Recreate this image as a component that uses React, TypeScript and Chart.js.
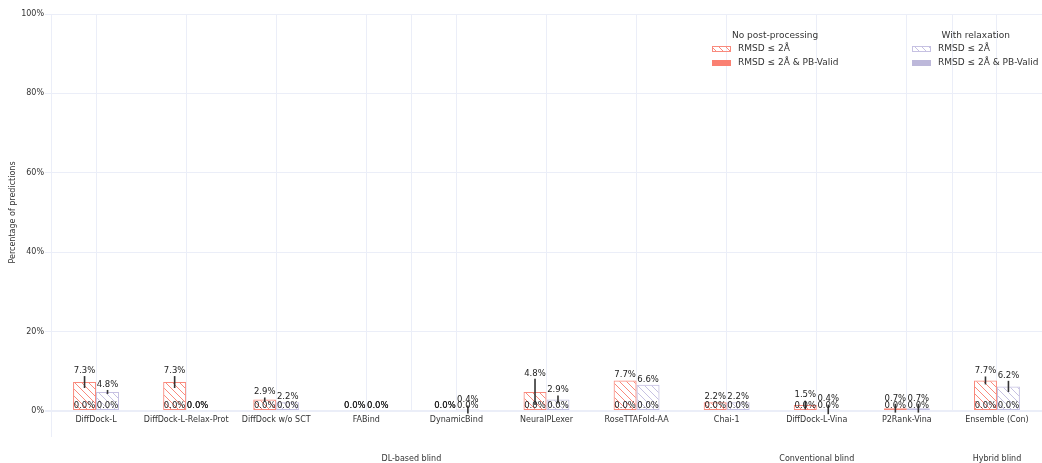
import React, { useEffect, useRef } from 'react';
import { Chart, registerables } from 'chart.js';
Chart.register(...registerables);

const categories = [
  'DiffDock-L', 'DiffDock-L-Relax-Prot', 'DiffDock w/o SCT', 'FABind', 'DynamicBind',
  'NeuralPLexer', 'RoseTTAFold-AA', 'Chai-1', 'DiffDock-L-Vina', 'P2Rank-Vina', 'Ensemble (Con)',
];
const noPostRmsd = [7.3, 7.3, 2.9, 0.0, 0.0, 4.8, 7.7, 2.2, 1.5, 0.7, 7.7];
const noPostRmsdErr = [1.5, 1.5, 0.5, 0.0, 0.0, 3.3, 0.0, 0.0, 1.1, 1.1, 1.0];
const noPostPbValid = [0.0, 0.0, 0.0, 0.0, 0.0, 0.0, 0.0, 0.0, 0.0, 0.0, 0.0];
const relaxRmsd = [4.8, 0.0, 2.2, 0.0, 0.4, 2.9, 6.6, 2.2, 0.4, 0.7, 6.2];
const relaxRmsdErr = [0.5, 0.0, 0.0, 0.0, 1.0, 1.0, 0.0, 0.0, 1.2, 1.1, 1.4];
const relaxPbValid = [0.0, 0.0, 0.0, 0.0, 0.0, 0.0, 0.0, 0.0, 0.0, 0.0, 0.0];
const yTickValues = [0, 20, 40, 60, 80, 100];
const groupLabels = ['DL-based blind', 'Conventional blind', 'Hybrid blind'];
const groupCenters = [3.5, 8, 10];
const dividerPositions = [3.5, 9.5];

const RED = '#FA8072';
const RED_HATCH = '#F98A7D';
const PURPLE = '#BDB8DA';
const PURPLE_HATCH = '#C6C1E2';
const GRID = '#EBEEF8';
const FONT = '"DejaVu Sans", sans-serif';

function makeHatch(color: string): CanvasPattern | string {
  const c = document.createElement('canvas');
  const s = 7;
  c.width = s;
  c.height = s;
  const g = c.getContext('2d');
  if (!g) return color;
  g.strokeStyle = color;
  g.lineWidth = 1;
  g.beginPath();
  g.moveTo(-1, -1);
  g.lineTo(s + 1, s + 1);
  g.moveTo(s - 1, -1);
  g.lineTo(s + 1, 1);
  g.moveTo(-1, s - 1);
  g.lineTo(1, s + 1);
  g.stroke();
  const p = g.createPattern(c, 'repeat');
  return p || color;
}

export default function App() {
  const ref = useRef<HTMLCanvasElement | null>(null);

  useEffect(() => {
    document.body.style.margin = '0';
    const canvas = ref.current;
    if (!canvas) return;
    const redHatch = makeHatch(RED_HATCH);
    const purpleHatch = makeHatch(PURPLE_HATCH);

    const errors: Record<number, number[]> = { 0: noPostRmsdErr, 2: relaxRmsdErr };

    const overlayPlugin = {
      id: 'overlay',
      beforeDatasetsDraw(chart: any) {
        const { ctx, chartArea, scales } = chart;
        const x = scales.x;
        ctx.save();
        ctx.strokeStyle = GRID;
        ctx.lineWidth = 1;
        const lx = Math.round(x.getPixelForValue(-0.5)) + 0.5;
        ctx.beginPath();
        ctx.moveTo(lx, chartArea.top);
        ctx.lineTo(lx, chartArea.bottom + 26);
        ctx.stroke();
        dividerPositions.forEach((p) => {
          const px = Math.round(x.getPixelForValue(p)) + 0.5;
          ctx.beginPath();
          ctx.moveTo(px, chartArea.top);
          ctx.lineTo(px, chartArea.bottom);
          ctx.stroke();
        });
        ctx.restore();
      },
      afterDatasetsDraw(chart: any) {
        const { ctx, scales } = chart;
        const y = scales.y;
        ctx.save();
        // error bars
        ctx.strokeStyle = '#333';
        ctx.lineWidth = 1.6;
        [0, 2].forEach((d) => {
          const meta = chart.getDatasetMeta(d);
          const vals = chart.data.datasets[d].data as number[];
          meta.data.forEach((el: any, i: number) => {
            const e = errors[d][i];
            if (!e) return;
            const v = vals[i];
            ctx.beginPath();
            ctx.moveTo(el.x, y.getPixelForValue(v + e));
            ctx.lineTo(el.x, y.getPixelForValue(v - e));
            ctx.stroke();
          });
        });
        // labels
        ctx.fillStyle = '#222';
        ctx.font = `8.5px ${FONT}`;
        ctx.textAlign = 'center';
        ctx.textBaseline = 'middle';
        [0, 1, 2, 3].forEach((d) => {
          const meta = chart.getDatasetMeta(d);
          const vals = chart.data.datasets[d].data as number[];
          meta.data.forEach((el: any, i: number) => {
            const v = vals[i];
            const e = errors[d] ? errors[d][i] : 0;
            const top = Math.min(y.getPixelForValue(v + e), el.base);
            ctx.fillText(v.toFixed(1) + '%', el.x, top - 5.5);
          });
        });
        ctx.restore();
      },
      afterDraw(chart: any) {
        const { ctx, scales } = chart;
        const x = scales.x;
        ctx.save();
        ctx.fillStyle = '#333';
        ctx.font = `8px ${FONT}`;
        ctx.textAlign = 'center';
        ctx.textBaseline = 'middle';
        groupLabels.forEach((g, i) => {
          ctx.fillText(g, x.getPixelForValue(groupCenters[i]), 459);
        });
        // legend
        const groups = [
          { title: 'No post-processing', titleX: 732, swX: 712, hatch: redHatch, hatchBorder: RED_HATCH, solid: RED },
          { title: 'With relaxation', titleX: 941.5, swX: 912, hatch: purpleHatch, hatchBorder: PURPLE_HATCH, solid: PURPLE },
        ];
        ctx.font = `9px ${FONT}`;
        ctx.textAlign = 'left';
        groups.forEach((g) => {
          ctx.fillStyle = '#333';
          ctx.fillText(g.title, g.titleX, 36);
          ctx.fillStyle = g.hatch as any;
          ctx.fillRect(g.swX, 46, 19, 6);
          ctx.strokeStyle = g.hatchBorder;
          ctx.lineWidth = 1;
          ctx.strokeRect(g.swX + 0.5, 46.5, 18, 5);
          ctx.fillStyle = '#333';
          ctx.fillText('RMSD ≤ 2Å', g.swX + 26, 49);
          ctx.fillStyle = g.solid;
          ctx.fillRect(g.swX, 60, 19, 6);
          ctx.fillStyle = '#333';
          ctx.fillText('RMSD ≤ 2Å & PB-Valid', g.swX + 26, 63);
        });
        ctx.restore();
      },
    };

    const chart = new Chart(canvas, {
      type: 'bar',
      data: {
        labels: categories,
        datasets: [
          {
            label: 'RMSD ≤ 2Å',
            data: noPostRmsd,
            stack: 'noPost',
            backgroundColor: redHatch as any,
            borderColor: RED_HATCH,
            borderWidth: 1,
            borderSkipped: false,
          },
          {
            label: 'RMSD ≤ 2Å & PB-Valid',
            data: noPostPbValid,
            stack: 'noPost',
            backgroundColor: RED,
            borderWidth: 0,
          },
          {
            label: 'RMSD ≤ 2Å',
            data: relaxRmsd,
            stack: 'relax',
            backgroundColor: purpleHatch as any,
            borderColor: PURPLE_HATCH,
            borderWidth: 1,
            borderSkipped: false,
          },
          {
            label: 'RMSD ≤ 2Å & PB-Valid',
            data: relaxPbValid,
            stack: 'relax',
            backgroundColor: PURPLE,
            borderWidth: 0,
          },
        ],
      },
      plugins: [overlayPlugin],
      options: {
        animation: false,
        responsive: true,
        maintainAspectRatio: false,
        devicePixelRatio: 1,
        categoryPercentage: 0.51,
        barPercentage: 1.0,
        layout: { padding: { top: 14, right: 0, left: 0, bottom: 0 } },
        plugins: {
          legend: { display: false },
          tooltip: { enabled: false },
        },
        scales: {
          x: {
            stacked: true,
            offset: true,
            grid: { offset: false, color: GRID, drawTicks: false },
            border: { display: false },
            ticks: {
              autoSkip: false,
              maxRotation: 0,
              minRotation: 0,
              padding: 4,
              color: '#333',
              font: { family: FONT, size: 8 },
            },
            afterFit(scale: any) {
              scale.height = 52;
            },
          },
          y: {
            stacked: false,
            min: 0,
            max: 100,
            afterBuildTicks(scale: any) {
              scale.ticks = yTickValues.map((v) => ({ value: v }));
            },
            grid: {
              color: GRID,
              lineWidth: (c: any) => (c.tick && c.tick.value === 0 ? 2 : 1),
              drawTicks: true,
              tickLength: 6,
            },
            border: { display: false },
            ticks: {
              padding: 1,
              color: '#333',
              font: { family: FONT, size: 8 },
              callback: (v: any) => `${v}%`,
            },
            title: {
              display: true,
              text: 'Percentage of predictions',
              color: '#333',
              font: { family: FONT, size: 8 },
              padding: { top: 8, bottom: 0 },
            },
            afterFit(scale: any) {
              scale.width = 51;
            },
          },
        },
      } as any,
    });
    return () => chart.destroy();
  }, []);

  return (
    <div style={{ position: 'absolute', left: 0, top: 0, width: 1042, height: 463 }}>
      <canvas ref={ref} />
    </div>
  );
}
